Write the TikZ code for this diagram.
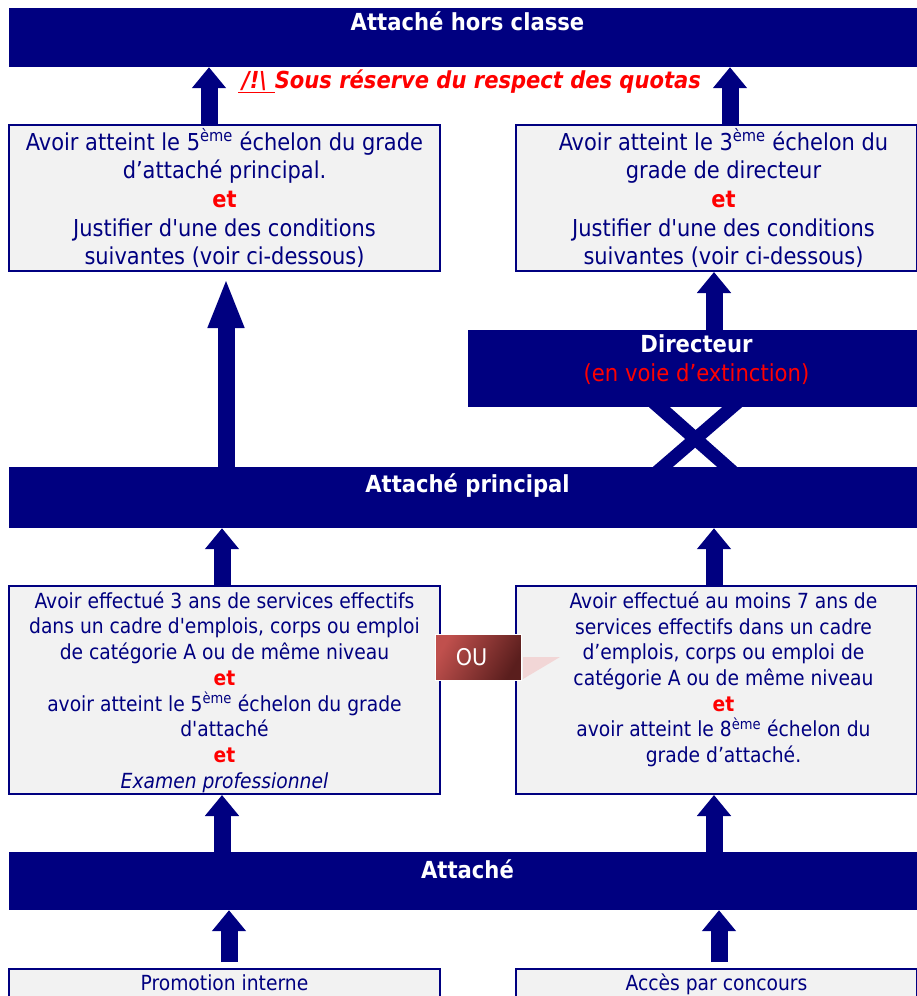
\documentclass[tikz,border=0pt]{standalone}
\usepackage{fontspec}
\setmainfont[Ligatures=TeXOff]{DejaVu Sans Condensed}
\usepackage{tikz}
\usetikzlibrary{arrows.meta}
\definecolor{navy}{HTML}{000080}
\definecolor{boxgrey}{HTML}{F2F2F2}
\definecolor{ouA}{HTML}{C0504D}
\definecolor{ouB}{HTML}{5A1E1D}
\definecolor{oupink}{HTML}{F2D6D6}

\begin{document}
\begin{tikzpicture}[x=1pt,y=-1pt]
            \tikzstyle{banner}=[rectangle,fill=navy,text=white,align=center,inner sep=0pt,font=\fontsize{23.5}{28}\selectfont]
            \tikzstyle{grade}=[rectangle,draw=navy,line width=2pt,fill=boxgrey,text=navy,align=center,inner sep=0pt]
            \tikzstyle{gradetext}=[text=navy,align=center,inner sep=0pt]
            \tikzstyle{bigtext}=[font=\fontsize{23.3}{28.7}\selectfont]
            \tikzstyle{smalltext}=[font=\fontsize{20.8}{25.7}\selectfont]
            \tikzstyle{uparrow}=[navy,line width=17pt,-{Triangle[width=33pt,length=21pt]}]
            \useasboundingbox (0,0) rectangle (917,996);

            \node[banner,minimum width=908pt,minimum height=59pt] (hors) at (463,37.5) {\hspace*{9pt}\textbf{Attaché hors classe}\\[4pt]~};
            \node[banner,minimum width=908pt,minimum height=61pt] (principal) at (463,497.5) {\hspace*{9pt}\textbf{Attaché principal}\\~};
            \node[banner,minimum width=908pt,minimum height=58pt] (attache) at (463,881) {\hspace*{9pt}\textbf{Attaché}\\[-4pt]~};
            \node[banner,minimum width=449pt,minimum height=77pt] (directeur) at (692.5,368.5) {\hspace*{8pt}\textbf{Directeur}\\[1pt]\hspace*{8pt}\textcolor{red}{(en voie d’extinction)}\\[-8pt]~};

            \node[grade,bigtext,minimum width=431pt,minimum height=146pt] (condA) at (224.5,198) {Avoir atteint le 5\textsuperscript{ème} échelon du grade\\d’attaché principal.\\\textcolor{red}{\textbf{et}}\\Justifier d'une des conditions\\suivantes (voir ci-dessous)};
            \node[grade,minimum width=401pt,minimum height=146pt] (condB) at (716.5,198) {};
            \node[gradetext,bigtext] (condBtext) at ([xshift=7pt]condB.center) {Avoir atteint le 3\textsuperscript{ème} échelon du\\grade de directeur\\\textcolor{red}{\textbf{et}}\\Justifier d'une des conditions\\suivantes (voir ci-dessous)};
            \node[grade,minimum width=431pt,minimum height=208pt] (condC) at (224.5,690) {};
            \node[gradetext,smalltext] (condCtext) at ([yshift=-2pt]condC.center) {Avoir effectué 3 ans de services effectifs\\dans un cadre d'emplois, corps ou emploi\\de catégorie A ou de même niveau\\\textcolor{red}{\textbf{et}}\\avoir atteint le 5\textsuperscript{ème} échelon du grade\\d'attaché\\\textcolor{red}{\textbf{et}}\\\textit{Examen professionnel}};
            \node[grade,minimum width=401pt,minimum height=208pt] (condD) at (716.5,690) {};
            \node[gradetext,smalltext] (condDtext) at ([xshift=7pt]condD.center) {Avoir effectué au moins 7 ans de\\services effectifs dans un cadre\\d’emplois, corps ou emploi de\\catégorie A ou de même niveau\\\textcolor{red}{\textbf{et}}\\avoir atteint le 8\textsuperscript{ème} échelon du\\grade d’attaché.\\~};
            \node[grade,smalltext,minimum width=431pt,minimum height=29pt,text height=18pt,text depth=5pt] (interne) at (224.5,983.5) {Promotion interne};
            \node[grade,smalltext,minimum width=401pt,minimum height=29pt,text height=18pt,text depth=5pt] (concours) at (716.5,983.5) {Accès par concours};

            \node[text=red,font=\fontsize{23.4}{28}\selectfont\bfseries\itshape] (quotas) at (469.5,82) {\underline{\,/!\textbackslash\,\,}Sous réserve du respect des quotas};

            % arrows between the levels
            \draw[uparrow] (condA.north -| 209,0) -- (hors.south -| 209,0);
            \draw[uparrow] (condB.north -| 730,0) -- (hors.south -| 730,0);
            \draw[uparrow,-{Triangle[width=33pt,length=50pt]},shorten >=6pt] (principal.north -| 226,0) -- (condA.south -| 226,0);
            \draw[uparrow] (directeur.north -| 714,0) -- (condB.south -| 714,0);
            \foreach \x/\from in {222/condC, 714/condD}
                \draw[uparrow] (\from.north -| \x,0) -- (principal.south -| \x,0);
            \foreach \x/\to in {222/condC, 714/condD}
                \draw[uparrow] (attache.north -| \x,0) -- (\to.south -| \x,0);
            \draw[uparrow,shorten <=6pt] (interne.north -| 229,0) -- (attache.south -| 229,0);
            \draw[uparrow,shorten <=6pt] (concours.north -| 719,0) -- (attache.south -| 719,0);

            % the crossing below Directeur
            \fill[navy] (directeur.south -| 649,0) -- (directeur.south -| 670,0) -- (principal.north -| 737,0) -- (principal.north -| 717,0) -- cycle;
            \fill[navy] (directeur.south -| 722,0) -- (directeur.south -| 742,0) -- (principal.north -| 673,0) -- (principal.north -| 653,0) -- cycle;

            \fill[oupink] (523,657) -- (560,657) -- (523,679) -- cycle;
            \node[rectangle,draw=white,line width=1pt,left color=ouA,right color=ouB,shading angle=60,minimum width=86pt,minimum height=46pt,inner sep=0pt,text=white,font=\fontsize{23}{25}\selectfont] (ou) at (478,657) {OU\hspace*{13pt}};
        \end{tikzpicture}
\end{document}
